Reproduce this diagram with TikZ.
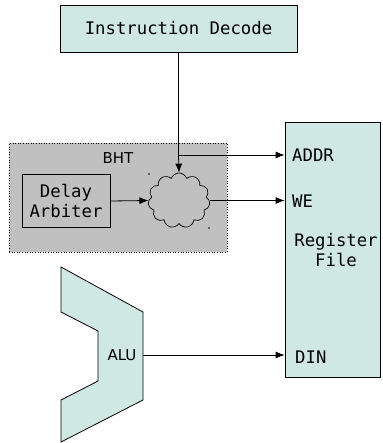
\documentclass[tikz,border=0pt]{standalone}
\usepackage{fontspec}
\setmainfont{DejaVu Sans}
\setmonofont{DejaVu Sans Mono}
\usetikzlibrary{shapes.symbols,arrows.meta}
\definecolor{unitfill}{HTML}{D0E8E4}
\definecolor{bhtfill}{HTML}{C0C0C0}
\tikzset{
  unit/.style={draw, fill=unitfill, line width=0.8pt, inner sep=0pt},
  sig/.style={-{Latex[length=9pt,width=7pt]}, line width=0.8pt},
  mono/.style={font=\fontsize{17.3}{20.5}\selectfont\ttfamily},
  sans/.style={font=\fontsize{15}{17}\selectfont},
  port/.style={mono, anchor=west, inner sep=0pt},
}
\begin{document}
\begin{tikzpicture}[x=1pt,y=-1pt]
  \useasboundingbox (0,0) rectangle (382,443);
  % decode stage
  \node[unit, mono, minimum width=237pt, minimum height=47pt] (decode) at (178.5,28.5) {Instruction Decode};
  % branch history table
  \node[draw, dotted, fill=bhtfill, line width=0.6pt, minimum width=218pt, minimum height=109pt] (bht) at (118,197.5) {};
  \node[sans] (bhtname) at (118,158) {BHT};
  \node[draw, line width=0.8pt, mono, align=center, minimum width=88pt, minimum height=53pt, inner sep=0pt] (delay) at (66,201) {Delay\\Arbiter};
  \node[cloud, draw, line width=0.7pt, cloud puffs=11, cloud puff arc=140, aspect=1.1, minimum width=62pt, minimum height=55pt, inner sep=0pt] (logic) at (179,200.5) {};
  \fill (149,174) circle (0.8pt) (209,228) circle (0.8pt);
  % register file
  \node[unit, minimum width=95pt, minimum height=255pt] (regfile) at (332.5,249.5) {};
  \node[mono, align=center] (regname) at (336,250) {Register\\File};
  \node[port] (addr) at (292,155) {ADDR};
  \node[port] (we) at (292,201) {WE};
  \node[port] (din) at (295,357) {DIN};
  % alu
  \draw[fill=unitfill, line width=0.8pt] (61,267) -- (143,312) -- (143,400) -- (61,442) -- (61,400) -- (98,381) -- (98,331) -- (61,312) -- cycle;
  \node[sans] (alu) at (122,355) {ALU};
  \coordinate (aluout) at (143,355);
  % connections
  \coordinate (split) at (decode.south |- 0,155);
  \draw[line width=0.8pt] (decode.south) -- (split);
  \draw[sig] (split) -- (split -| regfile.west);
  \draw[sig] (split) -- (logic.north);
  \draw[sig] (delay.east) -- (logic.west);
  \draw[sig] (logic.east) -- (logic.east -| regfile.west);
  \draw[sig] (aluout) -- (aluout -| regfile.west);
\end{tikzpicture}
\end{document}
